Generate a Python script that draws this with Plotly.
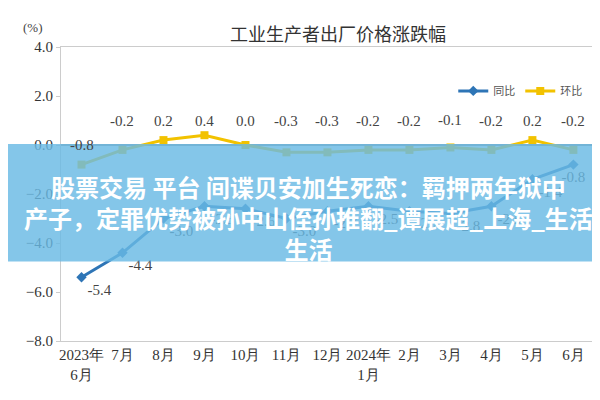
import plotly.graph_objects as go

months = ["2023年<br>6月", "7月", "8月", "9月", "10月", "11月", "12月", "2024年<br>1月", "2月", "3月", "4月", "5月", "6月"]
yoy = [-5.4, -4.4, -3.0, -2.5, -2.6, -3.0, -2.7, -2.5, -2.7, -2.8, -2.5, -1.4, -0.8]
mom = [-0.8, -0.2, 0.2, 0.4, 0.0, -0.3, -0.3, -0.2, -0.2, -0.1, -0.2, 0.2, -0.2]
x = list(range(len(months)))

fig = go.Figure()
fig.add_trace(go.Scatter(x=x, y=yoy, name="同比", mode="lines+markers+text",
    line=dict(color="#2e75b6", width=3), marker=dict(symbol="diamond", size=8, color="#2e75b6"),
    text=[f"{v:.1f}" for v in yoy], textposition=["bottom right"] * 12 + ["bottom center"],
    textfont=dict(family="Liberation Serif", size=15, color="#444")))
fig.add_trace(go.Scatter(x=x, y=mom, name="环比", mode="lines+markers",
    line=dict(color="#f2c200", width=3), marker=dict(symbol="square", size=8, color="#f2c200")))
for xi, v in zip(x, mom):
    fig.add_annotation(x=xi, y=v, text=f"{v:.1f}", showarrow=False, yshift=(1.0 - v) * 24.5 if xi else 20,
                       font=dict(family="Liberation Serif", size=15, color="#444"))

fig.add_shape(type="rect", xref="paper", yref="paper", x0=-0.2, x1=1.2, y0=0.27, y1=0.67,
              fillcolor="rgba(105,185,228,0.82)", line_width=0, layer="above")
fig.add_annotation(xref="paper", yref="paper", x=0.46, y=0.42, showarrow=False,
    text="<b>股票交易 平台 间谍贝安加生死恋：羁押两年狱中<br>产子，定罪优势被孙中山侄孙推翻_谭展超_上海_生活<br>生活</b>",
    font=dict(family="Noto Sans CJK SC", size=24, color="white"), yanchor="middle")

fig.update_layout(
    width=600, height=400, paper_bgcolor="white", plot_bgcolor="white",
    margin=dict(l=53, r=10, t=39, b=67),
    title=dict(text="工业生产者出厂价格涨跌幅", x=0.55, y=0.95, font=dict(family="Noto Sans CJK SC", size=18, color="#333")),
    legend=dict(orientation="h", x=0.98, xanchor="right", y=0.9, font=dict(family="Noto Sans CJK SC", size=11, color="#555")),
    showlegend=True,
)
fig.add_annotation(xref="paper", yref="paper", x=-0.075, y=1.1, text="(%)", showarrow=False,
                   font=dict(family="Liberation Serif", size=13, color="#444"))
fig.update_xaxes(tickvals=x, ticktext=months, range=[-0.5, 12.6], showgrid=False, zeroline=False,
                 showline=True, mirror=True, linecolor="#ccc", tickfont=dict(family="Liberation Serif", size=15, color="#333"))
fig.update_yaxes(range=[-8, 4], dtick=2, tickformat=".1f", showgrid=False, zeroline=True, zerolinecolor="#999",
                 showline=True, mirror=True, linecolor="#ccc", ticks="outside", ticklen=4, tickcolor="#ccc",
                 tickfont=dict(family="Liberation Serif", size=15, color="#333"))
fig.write_html("out.html")
